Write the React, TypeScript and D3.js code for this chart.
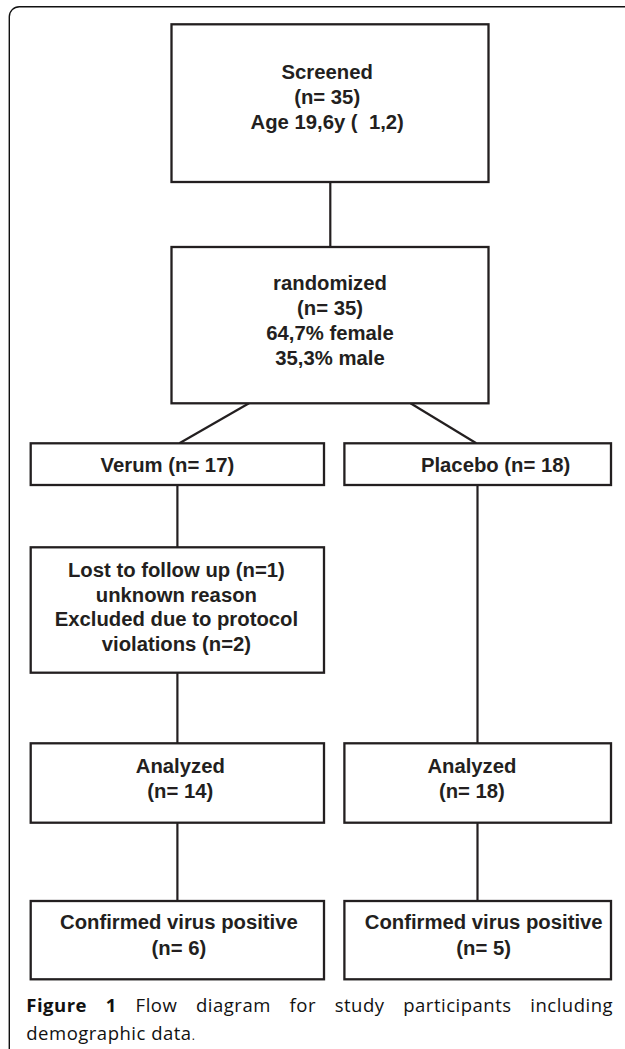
import React, { useMemo } from "react";
import * as d3 from "d3";

// ---------- DATA ----------
const screenedLines = ["Screened", "(n= 35)", "Age 19,6y (\u00A0\u00A01,2)"];
const randomizedLines = ["randomized", "(n= 35)", "64,7% female", "35,3% male"];
const verumLines = ["Verum (n= 17)"];
const placeboLines = ["Placebo (n= 18)"];
const lostLines = [
  "Lost to follow up (n=1)",
  "unknown reason",
  "Excluded due to protocol",
  "violations (n=2)",
];
const analyzedVerumLines = ["Analyzed", "(n= 14)"];
const analyzedPlaceboLines = ["Analyzed", "(n= 18)"];
const confirmedVerumLines = ["Confirmed virus positive", "(n= 6)"];
const confirmedPlaceboLines = ["Confirmed virus positive", "(n= 5)"];
const captionBold = ["Figure", "1"];
const captionLine1 = ["Flow", "diagram", "for", "study", "participants", "including"];
const captionLine2 = "demographic data";

// ---------- LAYOUT ----------
const W = 625;
const H = 1049;
const INK = "#231f20";
const FONT = "'Liberation Sans', Arial, sans-serif";
const CAP_FONT = "'Open Sans', 'Noto Sans', sans-serif";

const colX = {
  full: [171.5, 488.5],
  left: [30.7, 324],
  right: [344.4, 611],
};
const rowY = {
  screened: [24.3, 182],
  randomized: [247, 403.3],
  arm: [443.3, 485],
  lost: [547.3, 672.7],
  analyzed: [743.3, 822.7],
  confirmed: [901, 979.3],
};

type Box = {
  col: keyof typeof colX;
  row: keyof typeof rowY;
  lines: string[];
  tx: number;
  firstBase: number;
  step: number;
};

const boxes: Box[] = [
  { col: "full", row: "screened", lines: screenedLines, tx: 327.2, firstBase: 79, step: 25 },
  { col: "full", row: "randomized", lines: randomizedLines, tx: 330, firstBase: 290, step: 25 },
  { col: "left", row: "arm", lines: verumLines, tx: 167.4, firstBase: 471.7, step: 25 },
  { col: "right", row: "arm", lines: placeboLines, tx: 495.6, firstBase: 471.7, step: 25 },
  { col: "left", row: "lost", lines: lostLines, tx: 176.4, firstBase: 576.7, step: 24.8 },
  { col: "left", row: "analyzed", lines: analyzedVerumLines, tx: 180.3, firstBase: 772.7, step: 25.6 },
  { col: "right", row: "analyzed", lines: analyzedPlaceboLines, tx: 471.9, firstBase: 772.7, step: 25.6 },
  { col: "left", row: "confirmed", lines: confirmedVerumLines, tx: 178.9, firstBase: 929.3, step: 25.7 },
  { col: "right", row: "confirmed", lines: confirmedPlaceboLines, tx: 483.7, firstBase: 929.3, step: 25.7 },
];

const xLeftStem = 177.4;
const xRightStem = 477.5;
const xMidStem = 330.3;

const connectors: [number, number][][] = [
  [[xMidStem, rowY.screened[1]], [xMidStem, rowY.randomized[0]]],
  [[249, rowY.randomized[1]], [179.4, rowY.arm[0]]],
  [[410.5, rowY.randomized[1]], [476.3, rowY.arm[0]]],
  [[xLeftStem, rowY.arm[1]], [xLeftStem, rowY.lost[0]]],
  [[xLeftStem, rowY.lost[1]], [xLeftStem, rowY.analyzed[0]]],
  [[xRightStem, rowY.arm[1]], [xRightStem, rowY.analyzed[0]]],
  [[xLeftStem, rowY.analyzed[1]], [xLeftStem, rowY.confirmed[0]]],
  [[xRightStem, rowY.analyzed[1]], [xRightStem, rowY.confirmed[0]]],
];

const CAP_SIZE = 18.5;
const CAP_LS = 0.5;
const capLeft = 26.3;
const capRight = 612.6;
const capBase1 = 1011.7;
const capBase2 = 1039.5;

function measure(text: string, weight: string) {
  const c = document.createElement("canvas").getContext("2d");
  const extra = text.length * CAP_LS;
  if (!c) return text.length * CAP_SIZE * 0.55 + extra;
  c.font = `${weight} ${CAP_SIZE}px 'Open Sans'`;
  return c.measureText(text).width + extra;
}

export default function App() {
  const line = d3.line<[number, number]>().x((d) => d[0]).y((d) => d[1]);

  const capWords = useMemo(() => {
    const words = [
      ...captionBold.map((t) => ({ t, bold: true })),
      ...captionLine1.map((t) => ({ t, bold: false })),
    ];
    const widths = words.map((w) => measure(w.t, w.bold ? "700" : "400"));
    const total = d3.sum(widths);
    const gap = (capRight - capLeft - total + CAP_LS) / (words.length - 1);
    let x = capLeft;
    return words.map((w, i) => {
      const out = { ...w, x };
      x += widths[i] + gap;
      return out;
    });
  }, []);

  const r = 10;
  const fx = 9.3;
  const fy = 6.7;
  const framePath = `M ${fx} ${H + 2} V ${fy + r} A ${r} ${r} 0 0 1 ${fx + r} ${fy} H ${W + 2}`;

  return (
    <svg
      width={W}
      height={H}
      viewBox={`0 0 ${W} ${H}`}
      style={{ position: "absolute", left: 0, top: 0, background: "#fff" }}
    >
      <rect x={0} y={0} width={W} height={H} fill="#fff" />
      <path d={framePath} fill="none" stroke="#111" strokeWidth={1.4} />

      {connectors.map((c, i) => (
        <path key={i} d={line(c) || ""} stroke={INK} strokeWidth={2.2} fill="none" />
      ))}

      {boxes.map((b, i) => {
        const [x0, x1] = colX[b.col];
        const [y0, y1] = rowY[b.row];
        return (
          <g key={i}>
            <rect
              x={x0}
              y={y0}
              width={x1 - x0}
              height={y1 - y0}
              fill="#fff"
              stroke={INK}
              strokeWidth={2.3}
            />
            {b.lines.map((t, j) => (
              <text
                key={j}
                x={b.tx}
                y={b.firstBase + j * b.step}
                textAnchor="middle"
                fontFamily={FONT}
                fontWeight="bold"
                fontSize={20.3}
                fill={INK}
              >
                {t}
              </text>
            ))}
          </g>
        );
      })}

      <g fontFamily={CAP_FONT} fontSize={CAP_SIZE} fill="#111" letterSpacing={CAP_LS}>
        {capWords.map((w, i) => (
          <text key={i} x={w.x} y={capBase1} fontWeight={w.bold ? 700 : 400}>
            {w.t}
          </text>
        ))}
        <text x={capLeft} y={capBase2}>
          {captionLine2}
          <tspan fontSize={12}>.</tspan>
        </text>
      </g>
    </svg>
  );
}
